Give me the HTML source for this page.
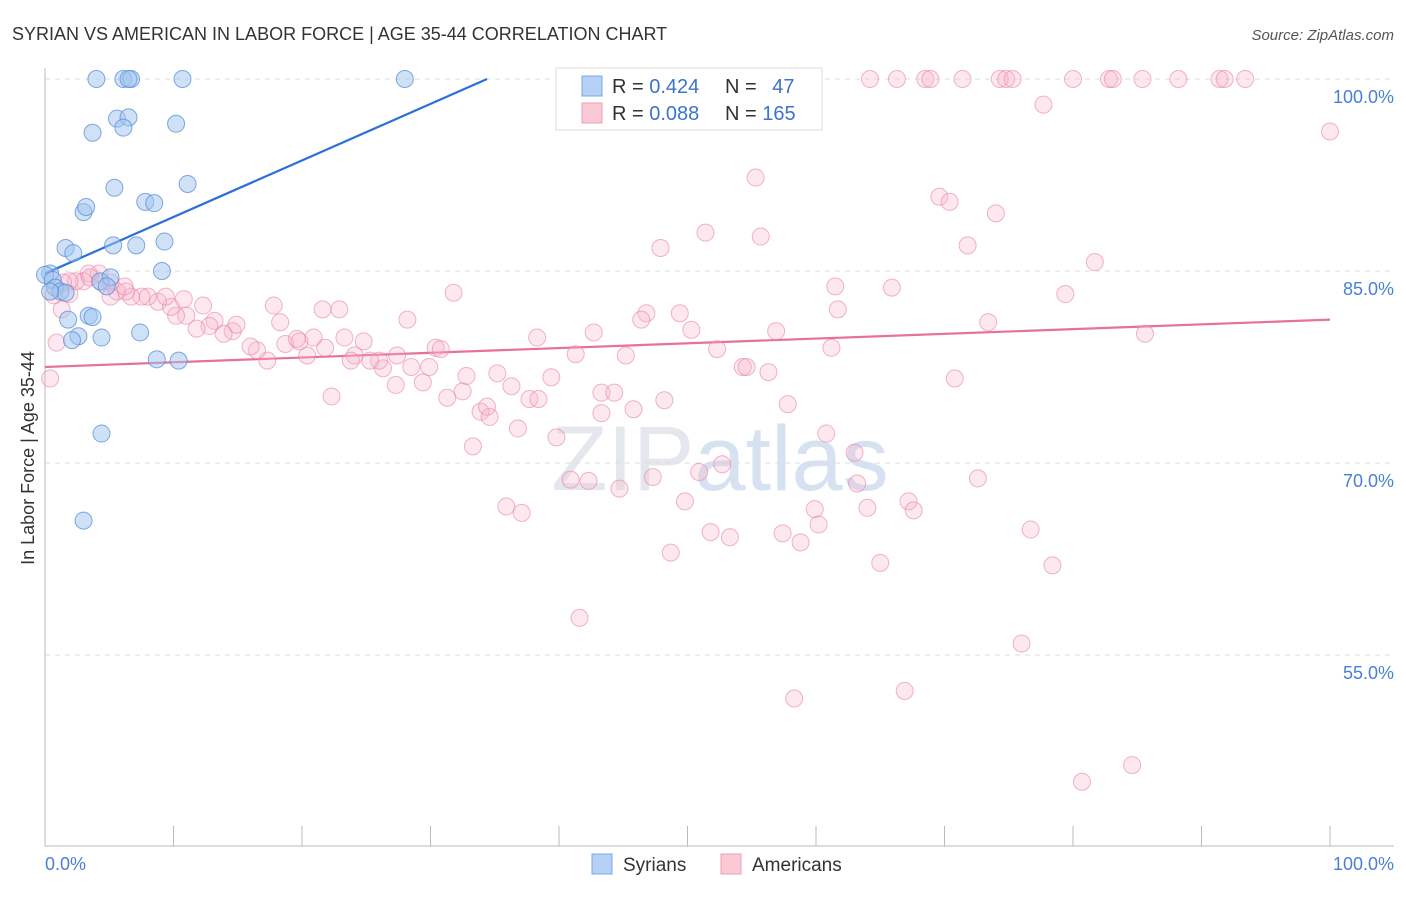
<!DOCTYPE html>
<html><head><meta charset="utf-8"><style>
body{margin:0;background:#fff;font-family:"Liberation Sans",sans-serif}
svg text{font-family:"Liberation Sans",sans-serif}
</style></head><body>
<svg id="chart" width="1406" height="892" xmlns="http://www.w3.org/2000/svg">
<text x="12" y="40" font-size="18" fill="#333">SYRIAN VS AMERICAN IN LABOR FORCE | AGE 35-44 CORRELATION CHART</text>
<text x="1394" y="40" font-size="15" fill="#555" font-style="italic" text-anchor="end">Source: ZipAtlas.com</text>
<text x="720" y="490" font-size="92" fill="#e4e8ee" text-anchor="middle" font-family="Liberation Serif">ZIP<tspan fill="#d6e2f2" font-family="Liberation Sans">atlas</tspan></text>
<g id="grid"></g>
<g id="axes"></g>
<g id="trend"></g>
<g id="pts"></g>
<text transform="translate(34,458) rotate(-90)" font-size="18" fill="#333" text-anchor="middle">In Labor Force | Age 35-44</text>
<text x="45" y="870" font-size="18" fill="#4a7fd6">0.0%</text>
<text x="1394" y="870" font-size="18" fill="#4a7fd6" text-anchor="end">100.0%</text>
<g>
<rect x="556" y="68" width="266" height="62" fill="#fff" stroke="#ddd"/>
<rect x="582" y="76" width="20" height="20" fill="#b7d0f5" stroke="#7aa7e6"/>
<rect x="582" y="103" width="20" height="20" fill="#fbc8d6" stroke="#ee9fbb"/>
<text x="612" y="93" font-size="20" fill="#333">R = <tspan fill="#3b73d1">0.424</tspan></text>
<text x="725" y="93" font-size="20" fill="#333">N = <tspan fill="#3b73d1" dx="10">47</tspan></text>
<text x="612" y="120" font-size="20" fill="#333">R = <tspan fill="#3b73d1">0.088</tspan></text>
<text x="725" y="120" font-size="20" fill="#333">N = <tspan fill="#3b73d1">165</tspan></text>
</g>
<g>
<rect x="592" y="854" width="20" height="20" fill="#b7d0f5" stroke="#7aa7e6"/>
<text x="623" y="871" font-size="19" fill="#333">Syrians</text></g>
<g>
<rect x="721" y="854" width="20" height="20" fill="#fbc8d6" stroke="#ee9fbb"/>
<text x="752" y="871" font-size="19" fill="#333">Americans</text></g>
</svg>
<script>
const yTicks=[100,85,70,55];
const yTickLabels=["100.0%","85.0%","70.0%","55.0%"];
const xTicks=[0,10,20,30,40,50,60,70,80,90,100];
const blueX=[4.0,6.1,6.7,10.7,28.0,6.5,47.1,5.6,6.5,10.2,3.7,6.1,11.1,5.4,7.8,8.5,3.0,3.2,1.6,5.3,7.1,9.3,2.2,9.1,0.4,0,0.6,4.3,5.1,0.8,1.2,1.6,4.8,0.4,3.4,3.7,1.8,7.4,2.6,4.4,2.1,8.7,10.4,4.4,3.0];
const blueY=[100,100,100,100,100,100,100,96.9,97.0,96.5,95.8,96.2,91.8,91.5,90.4,90.3,89.6,90.0,86.8,87.0,87.0,87.3,86.4,85.0,84.8,84.7,84.3,84.2,84.5,83.7,83.4,83.3,83.8,83.4,81.5,81.4,81.2,80.2,79.9,79.8,79.6,78.1,78.0,72.3,65.5];
const pinkX=[49.3,64.2,66.3,68.5,68.9,71.4,74.3,74.8,75.3,80.0,82.8,83.1,85.4,88.2,91.4,91.8,93.4,77.7,100,53.9,55.3,69.6,70.4,74.0,51.4,55.7,47.9,71.8,81.7,61.5,65.9,79.4,31.8,61.7,73.4,85.6,56.9,50.3,42.7,49.4,46.8,46.4,38.3,41.3,45.2,61.2,52.3,54.3,54.6,56.3,70.8,57.8,48.2,43.3,44.3,43.3,45.8,60.8,63.0,63.2,64.0,67.2,67.6,72.6,59.9,60.2,58.8,57.4,53.3,51.8,52.7,50.9,49.8,47.3,44.7,42.3,40.9,48.7,65.0,76.7,78.4,76.0,66.9,58.3,80.7,84.6,41.6,35.9,37.1,33.3,36.8,39.8,32.8,35.2,36.3,39.4,37.7,38.4,33.9,34.6,34.4,31.3,32.5,27.3,28.5,29.4,29.9,30.4,30.8,28.2,27.4,26.3,26.0,25.3,24.1,23.8,24.8,23.3,22.3,21.6,22.9,17.8,18.3,18.7,19.8,20.4,19.6,20.9,21.8,17.3,16.5,16.0,14.6,14.9,13.9,13.2,12.3,12.8,11.8,11.0,10.2,9.8,10.8,8.8,9.4,8.0,7.5,6.7,6.3,5.6,6.2,5.1,4.4,4.2,3.4,3.0,2.4,1.9,1.4,1.9,1.3,0.9,0.4,0.7,3.5,5.1];
const pinkY=[100,100,100,100,100,100,100,100,100,100,100,100,100,100,100,100,100,98.0,95.9,97.6,92.3,90.8,90.4,89.5,88.0,87.7,86.8,87.0,85.7,83.8,83.7,83.2,83.3,82.0,81.0,80.1,80.3,80.4,80.2,81.7,81.7,81.2,79.8,78.5,78.4,79.0,78.9,77.5,77.5,77.1,76.6,74.6,74.9,75.5,75.5,73.9,74.2,72.3,70.8,68.4,66.5,67.0,66.3,68.8,66.4,65.2,63.8,64.5,64.2,64.6,69.9,69.3,67.0,68.9,68.0,68.6,68.7,63.0,62.2,64.8,62.0,55.9,52.2,51.6,45.1,46.4,57.9,66.6,66.1,71.3,72.7,72.0,76.8,77.0,76.0,76.7,75.0,75.0,74.0,73.6,74.4,75.1,75.6,76.1,77.5,76.3,77.5,79.0,78.9,81.2,78.4,77.4,78.0,78.0,78.4,78.0,79.5,79.8,75.2,82.0,82.0,82.3,81.0,79.3,79.5,78.4,79.7,79.8,79.0,78.0,78.8,79.1,80.3,80.8,80.1,81.1,82.3,80.7,80.5,81.5,81.5,82.2,82.8,82.6,83.0,83.0,83.0,83.0,83.4,83.4,83.8,84.1,84.1,84.8,84.8,84.2,84.2,84.2,84.1,83.2,82.0,79.4,76.6,83.1,84.5,83.0];
const blueTrend=[[0,84.8],[34.4,100]];
const pinkTrend=[[0,77.5],[100,81.2]];
const NS="http://www.w3.org/2000/svg";
function sx(v){return 45+v*12.85;}
function sy(v){return 79+(100-v)*12.8;}
function mk(tag,attrs,parent){const e=document.createElementNS(NS,tag);for(const k in attrs)e.setAttribute(k,attrs[k]);parent.appendChild(e);return e;}
const grid=document.getElementById('grid'),axes=document.getElementById('axes'),tr=document.getElementById('trend'),pts=document.getElementById('pts');
yTicks.forEach((t,i)=>{
 const l=mk('line',{x1:45,x2:1394,y1:sy(t),y2:sy(t),stroke:'#ddd','stroke-dasharray':'5,5'},grid);
 
 
 const tx=mk('text',{x:1394,y:sy(t)+24,'font-size':18,fill:'#4a7fd6','text-anchor':'end'},grid);
 tx.textContent=yTickLabels[i];
 
 
});
const ya=mk('line',{x1:45,x2:45,y1:68,y2:846,stroke:'#bbb'},axes);


const xa=mk('line',{x1:45,x2:1394,y1:846,y2:846,stroke:'#bbb'},axes);


xTicks.forEach(t=>{
 const l=mk('line',{x1:sx(t),x2:sx(t),y1:826,y2:846,stroke:'#bbb'},axes);
 
 
});
function line(d,c,name){
 const l=mk('line',{x1:sx(d[0][0]),y1:sy(d[0][1]),x2:sx(d[1][0]),y2:sy(d[1][1]),stroke:c,'stroke-width':2.2},tr);
 
 
}
line(blueTrend,'#2b6fd8','syrians-trend-line');
line(pinkTrend,'#e8709c','americans-trend-line');
pinkX.forEach((x,i)=>{
 const c=mk('circle',{cx:sx(x),cy:sy(pinkY[i]),r:8.5,fill:'rgba(248,180,202,0.3)',stroke:'rgba(232,130,168,0.6)','stroke-width':1},pts);
 
 
});
blueX.forEach((x,i)=>{
 const c=mk('circle',{cx:sx(x),cy:sy(blueY[i]),r:8.5,fill:'rgba(160,195,240,0.5)',stroke:'rgba(90,140,215,0.75)','stroke-width':1},pts);
 
 
});
</script>
</body></html>
